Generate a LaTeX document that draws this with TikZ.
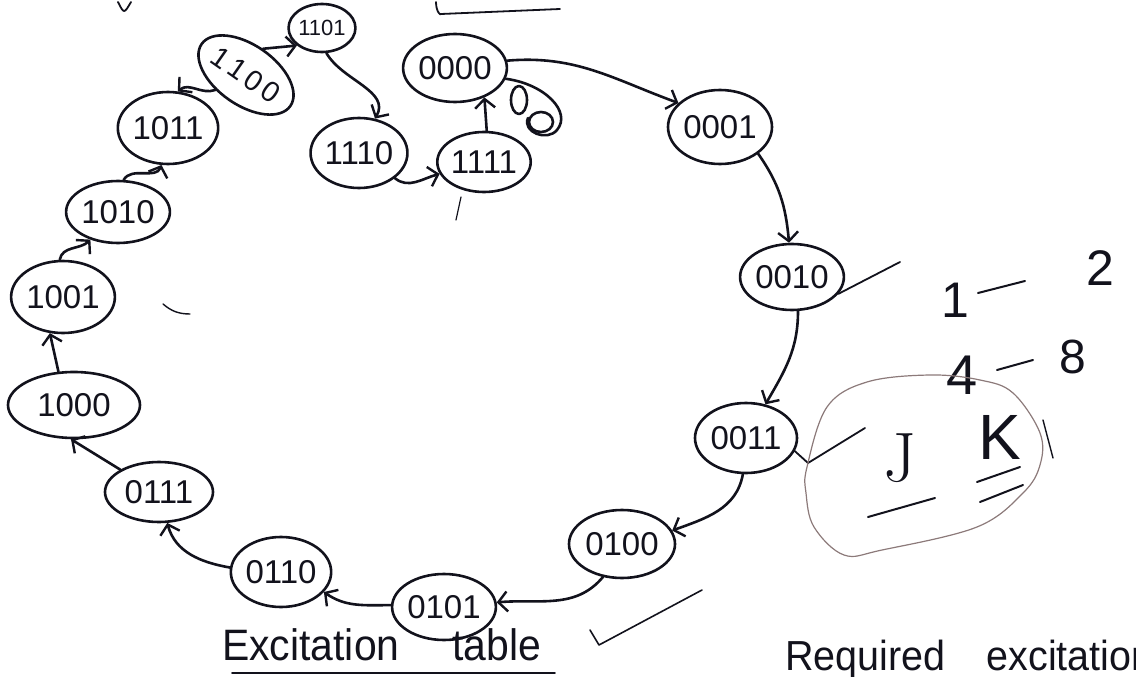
\documentclass[tikz,border=0pt]{standalone}
\usepackage{fontspec}
\setmainfont{Liberation Sans}
\newfontfamily\serifhand{Latin Modern Roman}
\usetikzlibrary{shapes.geometric,arrows.meta}
\definecolor{inkc}{HTML}{12121C}
\definecolor{penc}{HTML}{8C7A7A}
\begin{document}
\begin{tikzpicture}[x=1pt,y=-1pt,
  ink/.style={line width=2.6pt, draw=inkc, line cap=round, line join=round},
  st/.style 2 args={ellipse, ink, text=inkc, minimum width=#1pt, minimum height=#2pt,
    inner sep=0pt, font=\fontsize{33}{33}\selectfont},
  tr/.style={ink, -{Straight Barb[length=9pt,width=20pt,line width=2.4pt]}},
  pencil/.style={line width=1.2pt, draw=penc, line cap=round},
  hand/.style={text=inkc, inner sep=0pt}]
\useasboundingbox (0,0) rectangle (1136,677);

% states
\node[st={56}{48}, font=\fontsize{22}{22}\selectfont] (s1101) at (322,28) {1101};
\node[st={96}{60}, rotate=-35, font=\fontsize{29}{29}\selectfont] (s1100) at (246,75) {1\kern4pt1\kern4pt0\kern4pt0};
\node[st={86}{68}] (s0000) at (455,68) {0000};
\node[st={90}{72}] (s1011) at (168,128) {1011};
\node[st={90}{70}] (s1110) at (359,153) {1110};
\node[st={88}{60}] (s1111) at (484,162) {1111};
\node[st={104}{74}] (s0001) at (720,127) {0001};
\node[st={88}{62}] (s1010) at (118,212) {1010};
\node[st={100}{66}] (s0010) at (792,277) {0010};
\node[st={102}{72}] (s1001) at (63,297) {1001};
\node[st={132}{66}] (s1000) at (74,405) {1000};
\node[st={102}{70}] (s0011) at (746,438) {0011};
\node[st={108}{60}] (s0111) at (159,492) {0111};
\node[st={96}{70}] (s0110) at (281,572) {0110};
\node[st={102}{66}] (s0101) at (444,607) {0101};
\node[st={106}{68}] (s0100) at (622,544) {0100};

% transitions
\draw[tr] (s1100.92) -- (s1101.215);
\draw[tr] (s1101.-80) to[out=-60,in=60] (s1110.65);
\draw[tr] (s1110.-35) to[out=-40,in=195] (s1111.195);
\draw[tr] (s1111.85) -- (s0000.-45);
\draw[tr] (s0000.8) to[out=5,in=160] (s0001.150);
\draw[tr] (s0001.-35) to[out=-55,in=95] (s0010.95);
\draw[tr] (s0010.-80) to[out=-90,in=60] (s0011.60);
\draw[tr] (s0011.-95) to[out=-100,in=20] (s0100.15);
\draw[tr] (s0100.-120) to[out=-130,in=5] (s0101.5);
\draw[tr] (s0101.178) to[out=180,in=-35] (s0110.-25);
\draw[tr] (s0110.175) to[out=170,in=-75] (s0111.-75);
\draw[tr] (s0111.150) -- (s1000.-95);
\draw[tr] (s1000.115) -- (s1001.-110);
\draw[tr] (s1001.95) to[out=80,in=-135] (s1010.-135);
\draw[tr] (s1010.80) to[out=60,in=-110] (s1011.-100);
\draw[tr] (s1100.241) to[out=200,in=40] (s1011.75);

% small loops beside 0000
\coordinate (lp) at (528,118);
\draw[ink] (s0000.-12) .. controls (545,84) and (572,112) .. (557,130)
  .. controls (547,142) and (522,132) .. (lp);
\draw[ink] (519,100) ellipse (8 and 14);
\draw[ink] (541,122) ellipse (12 and 10);

% ticks
\coordinate (t1) at (900,262);
\draw[ink, line width=1.8pt] (s0010.-20) -- (t1);
\coordinate (t2a) at (808,463);
\coordinate (t2b) at (865,428);
\draw[ink, line width=1.8pt] (s0011.-15) -- (t2a) -- (t2b);
\coordinate (t3a) at (590,630);
\coordinate (t3b) at (599,645);
\coordinate (t3c) at (702,590);
\draw[ink, line width=1.6pt] (t3a) -- (t3b) -- (t3c);

% notes at the right
\node[hand, font=\fontsize{50}{50}\selectfont] (n1) at (955,300) {1};
\coordinate (d1a) at (978,293); \coordinate (d1b) at (1025,281);
\draw[ink, line width=2pt] (d1a) -- (d1b);
\node[hand, font=\fontsize{50}{50}\selectfont] (n2) at (1100,268) {2};
\node[hand, font=\fontsize{56}{56}\selectfont] (n4) at (962,375) {4};
\coordinate (d2a) at (997,370); \coordinate (d2b) at (1033,360);
\draw[ink, line width=2pt] (d2a) -- (d2b);
\node[hand, font=\fontsize{48}{48}\selectfont] (n8) at (1073,357) {8};

% J K circled in pencil
\draw[pencil] plot[smooth cycle, tension=0.6] coordinates {
  (807,467) (827,407) (867,382) (930,375) (980,380) (1013,393)
  (1040,433) (1040,465) (1023,493) (977,527) (882,550) (844,555)
  (814,527) (806,493)};
\node[hand, font=\serifhand\fontsize{70}{70}\selectfont] (nJ) at (900,458) {J};
\node[hand, font=\fontsize{64}{64}\selectfont] (nK) at (1000,437) {K};
\coordinate (uJa) at (868,517); \coordinate (uJb) at (935,498);
\draw[ink, line width=2pt] (uJa) -- (uJb);
\coordinate (uKa) at (977,482); \coordinate (uKb) at (1020,467);
\draw[ink, line width=2pt] (uKa) -- (uKb);
\coordinate (uKc) at (980,502); \coordinate (uKd) at (1023,485);
\draw[ink, line width=2pt] (uKc) -- (uKd);
\coordinate (kx1) at (1043,420); \coordinate (kx2) at (1053,458);
\draw[ink, line width=1.4pt] (kx1) -- (kx2);

% headings
\node[hand, anchor=base west, font=\fontsize{44}{44}\selectfont, xscale=0.93] (hx) at (222,660) {Excitation\hspace{57pt}table};
\coordinate (hu1) at (232,673); \coordinate (hu2) at (555,673);
\draw[ink, line width=1.8pt] (hu1) -- (hu2);
\node[hand, anchor=base west, font=\fontsize{42}{42}\selectfont, xscale=0.94] (hr) at (785,670) {Required\hspace{44pt}excitation};

% ends of the line above
\coordinate (a1) at (118,2); \coordinate (a2) at (124,14); \coordinate (a3) at (131,2);
\draw[ink, line width=1.8pt] (a1) .. controls (a2) .. (a3);
\coordinate (b1) at (436,2); \coordinate (b2) at (441,14); \coordinate (b3) at (560,9);
\draw[ink, line width=1.8pt] (b1) .. controls (436,12) and (441,16) .. (b2) -- (b3);

% stray marks
\coordinate (m1) at (163,304); \coordinate (m2) at (190,314);
\draw[ink, line width=1.4pt] (m1) to[bend right=20] (m2);
\coordinate (m3) at (461,197); \coordinate (m4) at (456,220);
\draw[ink, line width=1.2pt] (m3) -- (m4);
\end{tikzpicture}
\end{document}
